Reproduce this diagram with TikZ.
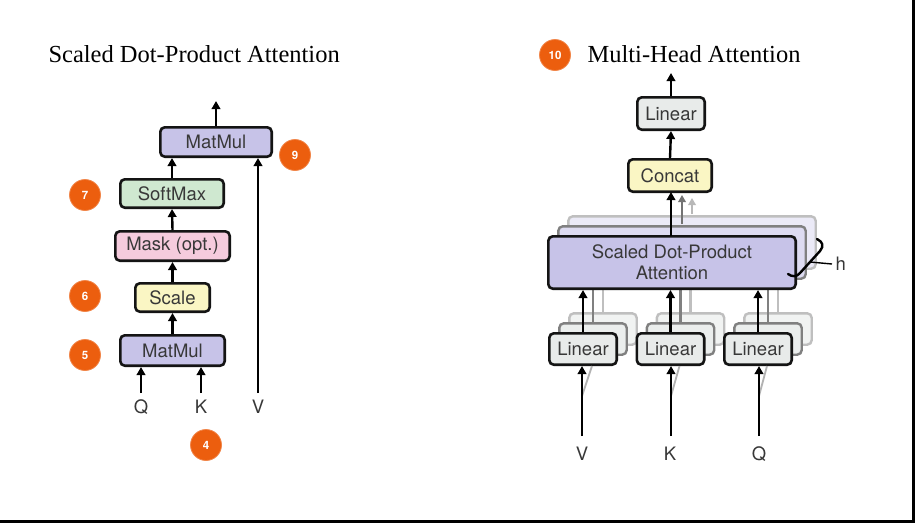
\documentclass[tikz,border=0pt]{standalone}
\usepackage{fontspec}
\setmainfont{Liberation Serif}
\setsansfont{TeX Gyre Heros}
\usetikzlibrary{arrows.meta}
\definecolor{cpurple}{RGB}{199,195,232}
\definecolor{cgreen}{RGB}{207,232,208}
\definecolor{cpink}{RGB}{245,203,221}
\definecolor{cyellow}{RGB}{250,246,196}
\definecolor{cgray}{RGB}{232,235,234}
\definecolor{corange}{RGB}{236,94,14}
\begin{document}
\begin{tikzpicture}[x=1pt,y=-1pt,
  box/.style={draw=black!92, line width=2.6pt, rounded corners=4.5pt, inner sep=0pt,
    font=\sffamily\fontsize{18.5}{22}\selectfont, text=black!78},
  back2/.style={draw=black!50, line width=2.4pt, rounded corners=4.5pt, inner sep=0pt},
  back3/.style={draw=black!25, line width=2.4pt, rounded corners=4.5pt, inner sep=0pt},
  arr/.style={line width=2.4pt, -{Triangle[length=8pt,width=8.5pt]}},
  garr/.style={line width=2.2pt, draw=black!55, -{Triangle[length=7pt,width=7.5pt]}},
  larr/.style={line width=2.2pt, draw=black!28, -{Triangle[length=7pt,width=7.5pt]}},
  badge/.style={circle, fill=corange, draw=corange!75!white, line width=0.8pt, minimum size=31pt,
    inner sep=0pt, text=white, font=\sffamily\bfseries\fontsize{11.5}{13}\selectfont},
  ttl/.style={font=\fontsize{24.5}{29}\selectfont, anchor=base west},
  lbl/.style={font=\sffamily\fontsize{18.5}{22}\selectfont, text=black!78, anchor=base}]

\useasboundingbox (0,0) rectangle (915,523);
\fill[white] (0,0) rectangle (915,523);
\draw[line width=2.2pt] (913.5,0) -- (913.5,521.5) -- (0,521.5);

% ---------------- Scaled Dot-Product Attention ----------------
\node[ttl] (t1) at (45,62) {Scaled Dot-Product Attention};

\node[box, fill=cpurple, minimum width=111.4pt, minimum height=29.4pt] (mm2) at (216,142) {MatMul};
\node[box, fill=cgreen,  minimum width=103.4pt, minimum height=28.4pt] (sm)  at (172,193.5) {SoftMax};
\node[box, fill=cpink,   minimum width=114.4pt, minimum height=29.4pt] (mask) at (172.5,246) {Mask (opt.)};
\node[box, fill=cyellow, minimum width=74.4pt,  minimum height=28.4pt] (scale) at (172.5,297.5) {Scale};
\node[box, fill=cpurple, minimum width=104.4pt, minimum height=30.4pt] (mm1) at (172.5,350.5) {MatMul};

\node[lbl] (q1) at (141,413) {Q};
\node[lbl] (k1) at (201,413) {K};
\node[lbl] (v1) at (258,413) {V};

\coordinate (q1s) at (141,393);
\coordinate (k1s) at (201,393);
\coordinate (v1s) at (258,393);
\coordinate (out1) at (216,101);

\draw[arr] (q1s) -- (q1s |- mm1.south);
\draw[arr] (k1s) -- (k1s |- mm1.south);
\draw[arr] (v1s) -- (v1s |- mm2.south);
\draw[arr] (mm1.north) -- (scale.south);
\draw[arr] (scale.north) -- (mask.south);
\draw[arr] (mask.north) -- (sm.south);
\draw[arr] (sm.north) -- (sm.north |- mm2.south);
\draw[arr] (mm2.north) -- (out1);

\node[badge] (b9) at (295,155) {9};
\node[badge] (b7) at (85,195) {7};
\node[badge] (b6) at (85,296) {6};
\node[badge] (b5) at (85,355) {5};
\node[badge] (b4) at (206,445) {4};

% ---------------- Multi-Head Attention ----------------
\node[badge] (b10) at (555,55) {10};
\node[ttl] (t2) at (584,62) {Multi-Head Attention};

% back layers of attention
\node[back3, fill=cpurple!35!white, minimum width=247.4pt, minimum height=52.4pt] (sdpa3) at (692,242.5) {};
\node[back2, fill=cpurple!60!white, minimum width=247.4pt, minimum height=52.4pt] (sdpa2) at (682,252.5) {};

% back layers of linears
\foreach \n/\x in {l1/583, l2/670.5, l3/758}{
  \node[back3, fill=cgray!60!white, minimum width=67.4pt, minimum height=31.4pt] (\n c) at (\x+20,329) {};
  \node[back2, fill=cgray!85!white, minimum width=67.4pt, minimum height=31.4pt] (\n b) at (\x+10,339) {};
  \draw[line width=2.2pt, draw=black!25] (\n c.north) -- (\n c.north |- sdpa3.south);
  \draw[line width=2.2pt, draw=black!50] (\n b.north) -- (\n b.north |- sdpa2.south);
}

\node[box, fill=cpurple, minimum width=247.4pt, minimum height=52.4pt, align=center] (sdpa) at (672,262.5)
  {Scaled Dot-Product\\[-1pt]Attention};

\node[box, fill=cgray, minimum width=67.4pt, minimum height=31.4pt] (l1) at (583,349) {Linear};
\node[box, fill=cgray, minimum width=67.4pt, minimum height=31.4pt] (l2) at (670.5,349) {Linear};
\node[box, fill=cgray, minimum width=67.4pt, minimum height=31.4pt] (l3) at (758,349) {Linear};

\node[box, fill=cyellow, minimum width=83.4pt, minimum height=32.4pt] (concat) at (670,175.5) {Concat};
\node[box, fill=cgray, minimum width=67.4pt, minimum height=32.4pt] (lt) at (671,113.5) {Linear};

\node[lbl] (v2) at (582,460) {V};
\node[lbl] (k2) at (670,460) {K};
\node[lbl] (q2) at (759,460) {Q};

\coordinate (v2s) at (582,436);
\coordinate (k2s) at (671,436);
\coordinate (q2s) at (759,436);
\coordinate (out2) at (671,73);

% faint fan-out of inputs towards the back copies
\foreach \c/\n in {v2s/l1, k2s/l2, q2s/l3}{
  \draw[line width=1.8pt, draw=black!30] ([yshift=40pt]\c) -- ([xshift=9pt]\n.south);
}

\draw[arr] (v2s) -- (v2s |- l1.south);
\draw[arr] (k2s) -- (k2s |- l2.south);
\draw[arr] (q2s) -- (q2s |- l3.south);

\draw[arr] (l1.north) -- (l1.north |- sdpa.south);
\draw[arr] (l2.north) -- (l2.north |- sdpa.south);
\draw[arr] (l3.north) -- (l3.north |- sdpa.south);

\coordinate (g2) at (682,224);
\coordinate (g3) at (692,214);
\draw[larr] (g3) -- ([yshift=-5pt]g3 |- concat.south);
\draw[garr] (g2) -- ([yshift=-2pt]g2 |- concat.south);
\draw[arr] (671,236) -- (671,192);
\draw[arr] (concat.north) -- (lt.south);
\draw[arr] (lt.north) -- (out2);

% brace h
\coordinate (hb) at (810,262);
\draw[line width=2.4pt, line cap=round] (817,239) .. controls (823,242) and (824,246) .. (820,251)
  -- (800,273) .. controls (797,277) and (792,277) .. (788,274);
\node[lbl, anchor=west] (h) at (832,264) {h};
\draw[line width=1.4pt] (hb) -- (h.west);
\end{tikzpicture}
\end{document}
